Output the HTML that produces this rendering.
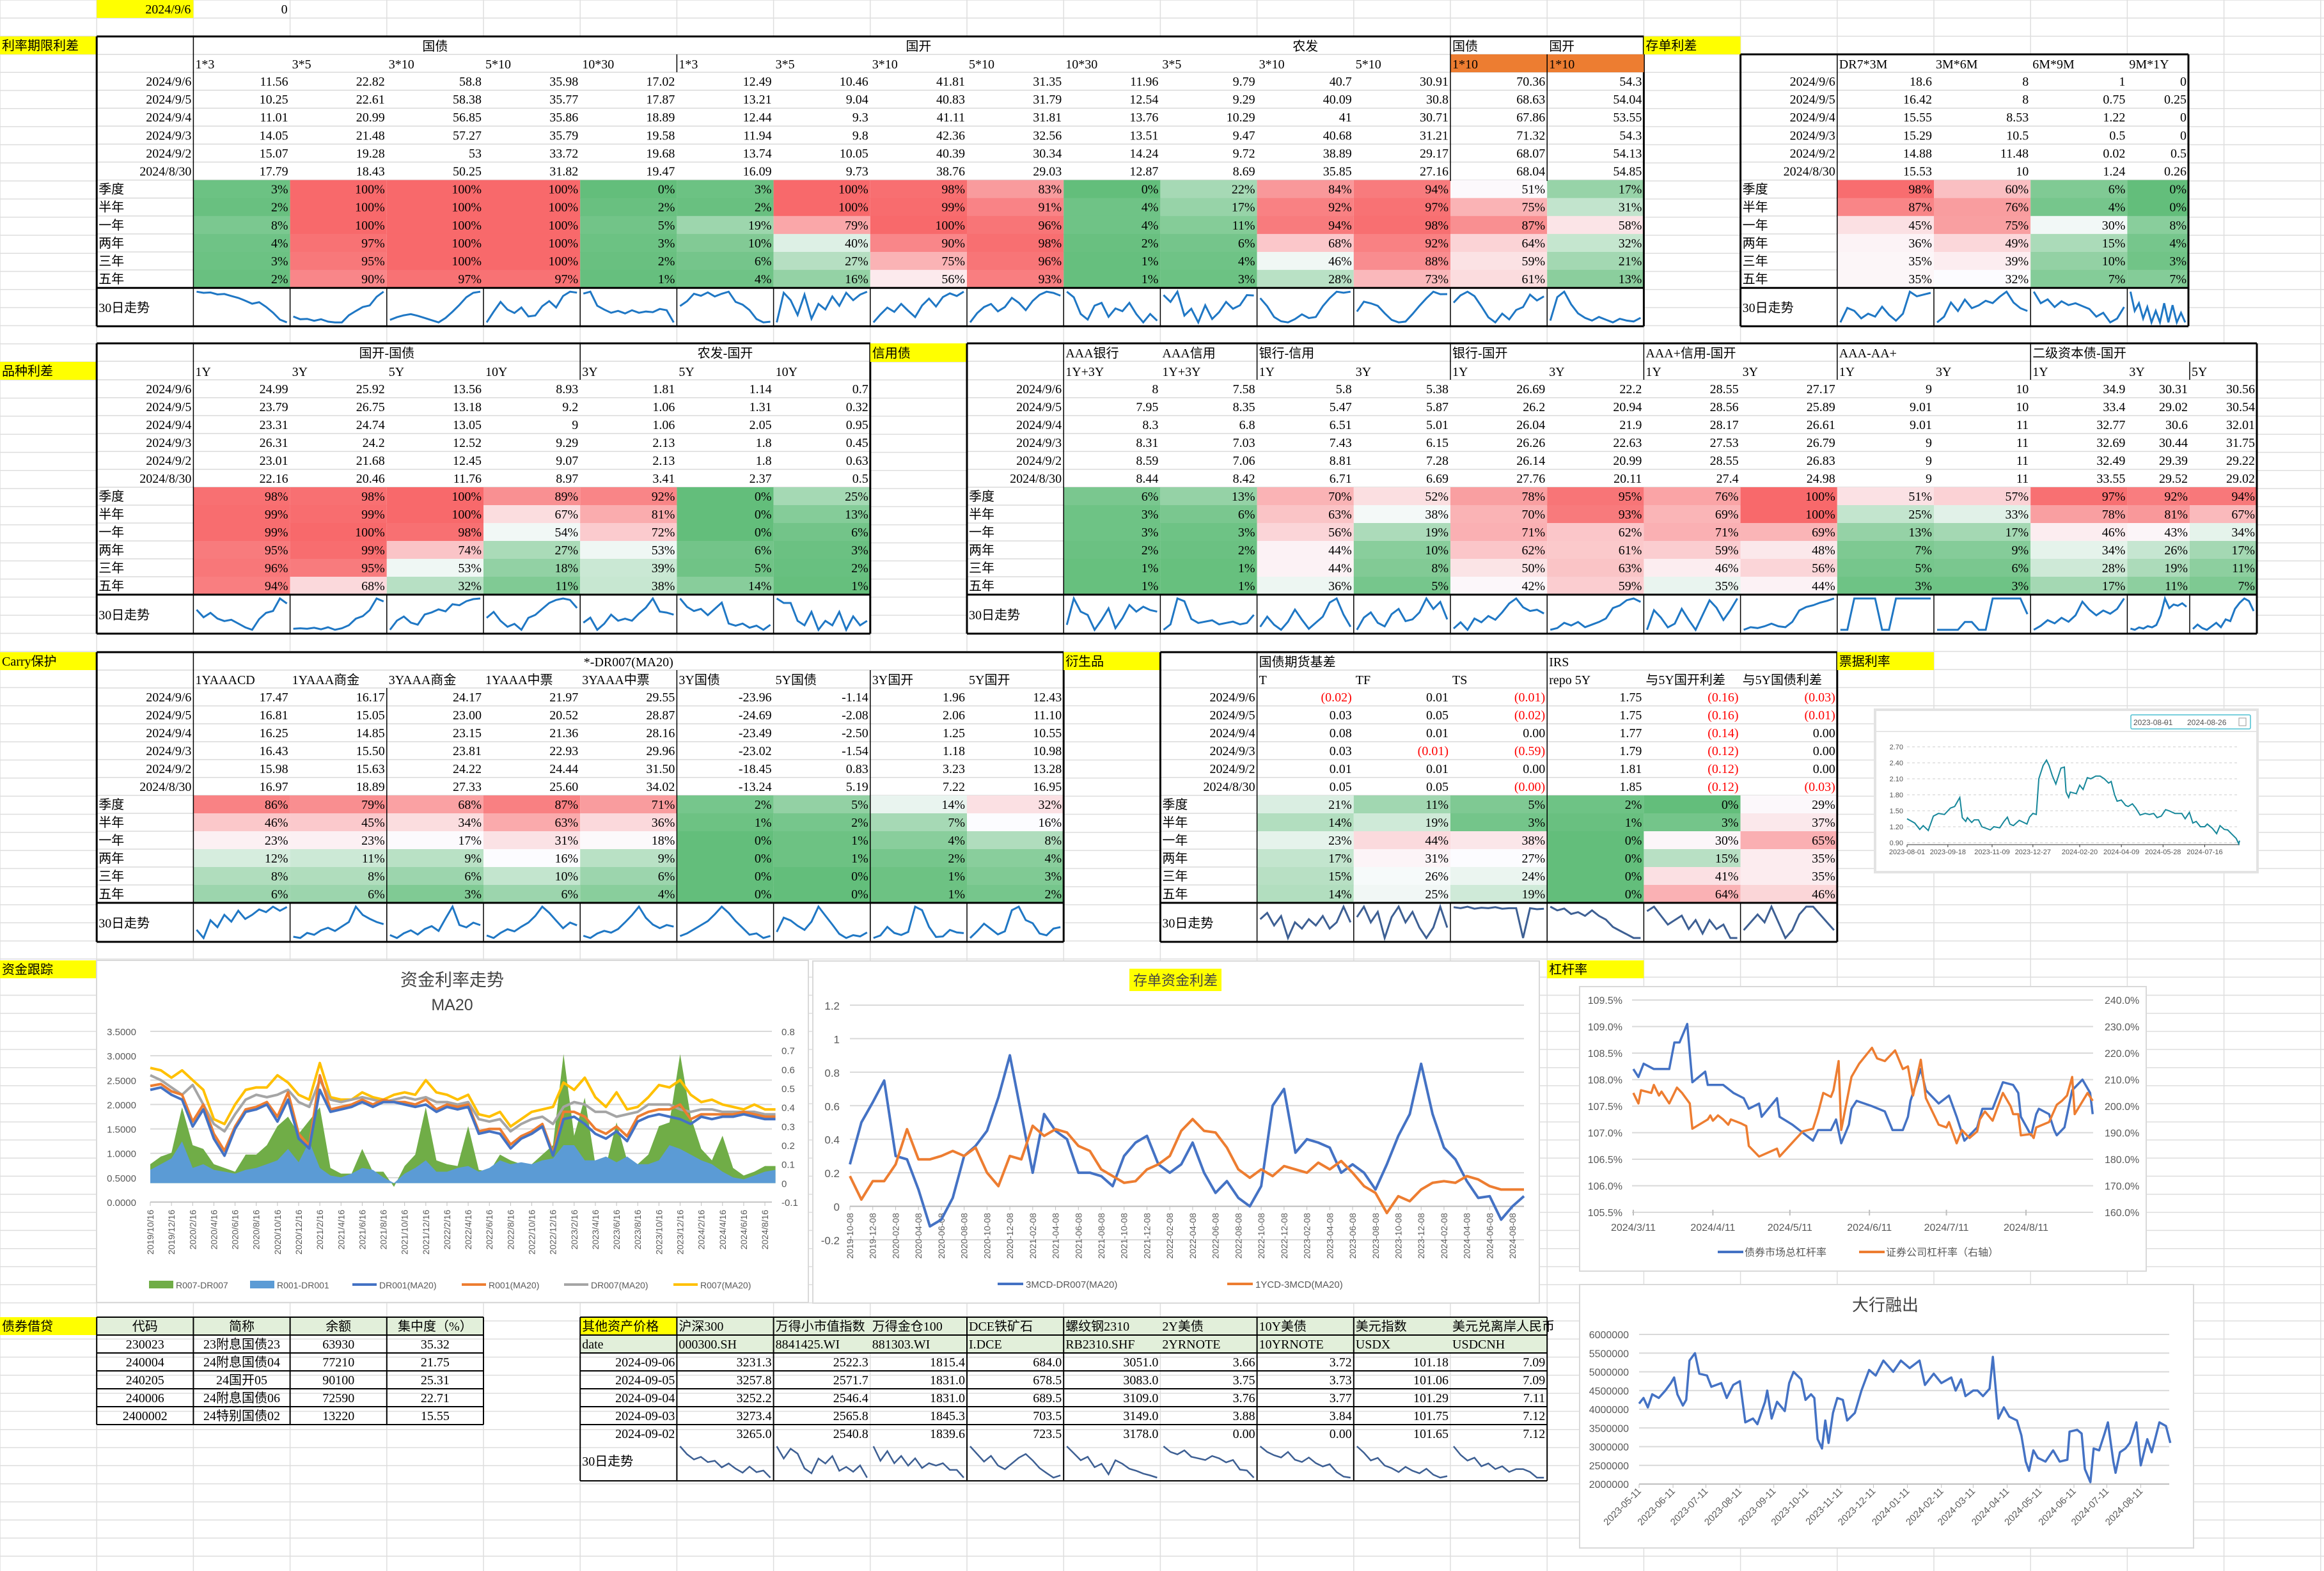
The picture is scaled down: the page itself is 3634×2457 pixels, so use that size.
<!DOCTYPE html>
<html><head><meta charset="utf-8"><title>Dashboard</title>
<style>
html,body{margin:0;padding:0;background:#fff;}
svg{display:block;font-family:"Liberation Serif","Noto Sans CJK SC",serif;}
.cs{font-family:"Liberation Sans","Noto Sans CJK SC",sans-serif;}
</style></head>
<body>
<svg id="sheet" xmlns="http://www.w3.org/2000/svg" width="3634" height="2457" viewBox="0 0 3634 2457"></svg>
<script>
// ===================== DATA =====================
const t1Dates=['2024/9/6','2024/9/5','2024/9/4','2024/9/3','2024/9/2','2024/8/30'];
const pctLabels=['季度','半年','一年','两年','三年','五年'];
const t1Cols=['1*3','3*5','3*10','5*10','10*30','1*3','3*5','3*10','5*10','10*30','3*5','3*10','5*10','1*10','1*10'];
const t1Vals=[[11.56,22.82,58.8,35.98,17.02,12.49,10.46,41.81,31.35,11.96,9.79,40.7,30.91,70.36,54.3],
[10.25,22.61,58.38,35.77,17.87,13.21,9.04,40.83,31.79,12.54,9.29,40.09,30.8,68.63,54.04],
[11.01,20.99,56.85,35.86,18.89,12.44,9.3,41.11,31.81,13.76,10.29,41,30.71,67.86,53.55],
[14.05,21.48,57.27,35.79,19.58,11.94,9.8,42.36,32.56,13.51,9.47,40.68,31.21,71.32,54.3],
[15.07,19.28,53,33.72,19.68,13.74,10.05,40.39,30.34,14.24,9.72,38.89,29.17,68.07,54.13],
[17.79,18.43,50.25,31.82,19.47,16.09,9.73,38.76,29.03,12.87,8.69,35.85,27.16,68.04,54.85]];
const t1Pct=[[3,100,100,100,0,3,100,98,83,0,22,84,94,51,17],
[2,100,100,100,2,2,100,99,91,4,17,92,97,75,31],
[8,100,100,100,5,19,79,100,96,4,11,94,98,87,58],
[4,97,100,100,3,10,40,90,98,2,6,68,92,64,32],
[3,95,100,100,2,6,27,75,96,1,4,46,88,59,21],
[2,90,97,97,1,4,16,56,93,1,3,28,73,61,13]];
const t1Spark=[[19.5,19.2,19.3,18.8,18.9,18.4,17.9,17.2,16.4,16.8,15.6,14.1,12.3,11.6],
[16.5,15.8,15.9,15.4,15.8,15.2,15.0,15.0,16.8,17.9,18.9,19.3,21.5,22.8],
[48.5,49.5,50.2,50.6,50.0,49.2,48.4,47.6,49.2,51.5,54.0,56.8,58.4,58.8],
[29.0,31.5,33.8,32.0,31.2,32.5,30.4,30.6,32.8,34.0,32.5,35.2,36.2,35.98],
[21.5,21.8,19.6,19.0,18.5,18.8,18.4,18.9,18.5,18.7,18.6,19.1,18.9,17.0],
[14.8,15.5,16.6,16.3,16.8,16.2,16.6,16.9,15.4,15.0,14.2,12.9,12.4,12.5],
[8.8,10.4,10.0,9.2,10.3,9.0,9.8,9.5,10.2,9.7,10.4,10.0,10.3,10.46],
[36.0,37.5,38.8,38.0,39.5,38.2,37.0,39.2,40.5,39.0,40.8,41.5,41.0,41.81],
[27.0,28.5,29.5,30.0,28.8,29.5,31.0,30.2,29.0,30.5,31.5,32.0,31.8,31.35],
[13.0,12.8,12.2,12.0,12.5,12.6,12.1,12.4,12.3,12.6,12.2,11.9,12.2,11.96],
[9.8,9.6,9.9,9.2,9.4,9.0,9.5,9.1,9.3,9.6,9.4,9.5,9.8,9.79],
[39.5,38.0,36.0,35.2,35.0,35.6,36.5,35.8,36.0,38.0,39.5,40.7,40.5,40.7],
[28.8,30.0,29.8,29.5,28.6,27.8,27.5,27.6,28.5,29.5,30.4,31.2,30.9,30.91],
[69.5,70.5,71.0,70.4,69.0,67.5,66.8,68.0,67.2,68.5,68.9,70.6,69.8,70.36],
[53.2,55.8,56.4,55.0,54.0,53.5,53.2,53.6,53.3,53.0,53.4,53.2,53.1,53.5]];
const cdCols=['DR7*3M','3M*6M','6M*9M','9M*1Y'];
const cdVals=[[18.6,8,1,0],[16.42,8,0.75,0.25],[15.55,8.53,1.22,0],[15.29,10.5,0.5,0],[14.88,11.48,0.02,0.5],[15.53,10,1.24,0.26]];
const cdPct=[[98,60,6,0],[87,76,4,0],[45,75,30,8],[36,49,15,4],[35,39,10,3],[35,32,7,7]];
const cdSpark=[[13.5,16.0,15.5,14.2,15.0,14.5,16.2,14.8,13.8,15.0,18.8,18.0,18.3,18.6],
[6.0,7.0,9.5,8.0,10.0,8.5,9.0,9.8,9.4,10.5,11.4,9.5,8.5,8.0],
[1.8,1.2,1.4,1.0,1.3,1.1,1.2,1.05,0.9,0.5,0.7,0.2,0.4,1.0],
[0.8,0.3,0.5,0.1,0.4,0.0,0.3,0.0,0.5,0.0,0.45,0.0,0.25,0.0]];
const pzCols=['1Y','3Y','5Y','10Y','3Y','5Y','10Y'];
const pzVals=[[24.99,25.92,13.56,8.93,1.81,1.14,0.7],[23.79,26.75,13.18,9.2,1.06,1.31,0.32],[23.31,24.74,13.05,9,1.06,2.05,0.95],[26.31,24.2,12.52,9.29,2.13,1.8,0.45],[23.01,21.68,12.45,9.07,2.13,1.8,0.63],[22.16,20.46,11.76,8.97,3.41,2.37,0.5]];
const pzPct=[[98,98,100,89,92,0,25],[99,99,100,67,81,0,13],[99,100,98,54,72,0,6],[95,99,74,27,53,6,3],[96,95,53,18,39,5,2],[94,68,32,11,38,14,1]];
const pzSpark=[[24.0,22.8,23.5,22.6,22.2,22.4,21.8,21.2,20.8,22.5,23.5,23.8,25.8,24.99],
[20.5,20.6,20.5,20.7,20.4,20.8,20.3,20.6,21.2,22.5,23.0,24.2,26.5,25.92],
[10.5,11.4,11.8,11.2,11.0,12.0,12.2,12.5,12.3,13.0,12.9,13.3,13.5,13.56],
[8.6,8.8,8.5,8.3,8.4,8.2,8.6,8.7,8.9,9.1,9.2,9.25,9.2,8.93],
[1.0,1.5,0.3,0.9,1.8,1.2,1.4,1.2,1.9,2.5,3.4,2.1,2.0,1.8],
[2.4,2.0,1.8,1.9,1.6,1.9,2.2,1.2,1.1,1.2,1.0,1.1,0.9,1.14],
[1.0,0.9,0.9,0.5,0.4,0.7,0.3,0.5,0.4,0.7,0.3,0.6,0.4,0.5]];
const xyCols=['1Y+3Y','1Y+3Y','1Y','3Y','1Y','3Y','1Y','3Y','1Y','3Y','1Y','3Y','5Y'];
const xyVals=[[8,7.58,5.8,5.38,26.69,22.2,28.55,27.17,9,10,34.9,30.31,30.56],
[7.95,8.35,5.47,5.87,26.2,20.94,28.56,25.89,9.01,10,33.4,29.02,30.54],
[8.3,6.8,6.51,5.01,26.04,21.9,28.17,26.61,9.01,11,32.77,30.6,32.01],
[8.31,7.03,7.43,6.15,26.26,22.63,27.53,26.79,9,11,32.69,30.44,31.75],
[8.59,7.06,8.81,7.28,26.14,20.99,28.55,26.83,9,11,32.49,29.39,29.22],
[8.44,8.42,6.71,6.69,27.76,20.11,27.4,24.98,9,11,33.55,29.52,29.02]];
const xyPct=[[6,13,70,52,78,95,76,100,51,57,97,92,94],[3,6,63,38,70,93,69,100,25,33,78,81,67],[3,3,56,19,71,62,71,69,13,17,46,43,34],[2,2,44,10,62,61,59,48,7,9,34,26,17],[1,1,44,8,50,63,46,56,5,6,28,19,11],[1,1,36,5,42,59,35,44,3,3,17,11,7]];
const xySpark=[[7.2,8.8,8.0,7.8,6.9,7.5,8.2,7.0,7.6,8.4,8.0,8.3,8.1,8.0],
[6.5,6.9,8.8,8.6,7.3,7.0,7.1,7.2,6.9,7.0,7.1,6.9,7.0,7.6],
[5.8,6.8,6.0,5.5,6.3,7.5,6.5,5.6,6.2,6.8,8.2,8.6,7.0,5.8],
[4.8,5.5,5.8,5.2,5.0,5.7,6.0,5.3,5.4,5.8,6.6,6.0,6.4,5.4],
[25.5,26.0,25.4,26.3,26.0,26.5,26.2,26.8,27.5,27.9,27.2,26.9,27.0,26.7],
[19.0,19.2,19.8,19.5,19.9,19.3,19.6,19.9,20.3,21.5,21.8,22.4,22.6,22.2],
[26.0,27.6,27.0,26.2,26.5,27.7,26.8,26.0,27.2,28.4,27.8,26.8,27.6,28.55],
[23.6,23.9,23.8,24.0,24.3,24.0,23.9,24.5,25.8,26.2,26.4,26.7,26.9,27.17],
[8,8,10,10,10,10,8,8,10,10,10,10,10,10],
[9,9,9,9,9.5,9.5,9,9,11,11,11,11,11,10],
[31.0,31.5,32.2,31.8,32.5,32.0,32.8,34.5,33.5,32.8,33.4,33.0,33.6,34.9],
[28.5,28.4,28.6,28.5,28.7,28.6,28.8,29.6,31.0,30.2,30.5,30.4,30.6,30.31],
[28.5,29.0,28.6,28.4,28.8,29.2,28.7,29.6,29.4,30.8,31.5,32.0,31.7,30.56]];
const cyCols=['1YAAACD','1YAAA商金','3YAAA商金','1YAAA中票','3YAAA中票','3Y国债','5Y国债','3Y国开','5Y国开'];
const cyVals=[[17.47,16.17,24.17,21.97,29.55,-23.96,-1.14,1.96,12.43],[16.81,15.05,23.00,20.52,28.87,-24.69,-2.08,2.06,11.10],[16.25,14.85,23.15,21.36,28.16,-23.49,-2.50,1.25,10.55],[16.43,15.50,23.81,22.93,29.96,-23.02,-1.54,1.18,10.98],[15.98,15.63,24.22,24.44,31.50,-18.45,0.83,3.23,13.28],[16.97,18.89,27.33,25.60,34.02,-13.24,5.19,7.22,16.95]];
const cyPct=[[86,79,68,87,71,2,5,14,32],[46,45,34,63,36,1,2,7,16],[23,23,17,31,18,0,1,4,8],[12,11,9,16,9,0,1,2,4],[8,8,6,10,6,0,0,1,3],[6,6,3,6,4,0,0,1,2]];
const cySpark=[[15.8,15.2,16.5,16.0,16.9,16.4,17.2,16.6,16.9,17.3,17.1,17.5,17.2,17.47],
[14.2,14.0,14.8,14.5,15.2,15.6,15.1,15.8,16.5,18.9,17.6,17.0,16.5,16.17],
[22.5,22.0,22.8,23.3,22.6,23.5,24.0,23.2,25.3,27.3,24.2,23.8,24.6,24.17],
[20.0,19.5,20.5,21.2,20.8,21.7,22.5,23.8,25.6,24.4,22.9,21.4,22.5,21.97],
[27.5,27.0,28.0,28.6,28.2,29.0,30.5,32.1,34.0,31.5,30.0,29.2,29.9,29.55],
[-24.0,-23.0,-21.5,-20.0,-18.5,-16.0,-13.2,-15.5,-18.5,-21.0,-23.5,-23.0,-24.7,-23.96],
[-1.0,2.5,1.8,0.5,-0.5,1.5,5.2,3.0,0.8,-1.5,-2.5,-1.8,-2.1,-1.14],
[1.0,1.5,3.2,2.0,1.6,2.2,7.2,6.5,3.2,1.2,1.3,2.6,2.1,1.96],
[10.0,11.5,13.2,12.0,10.8,11.5,16.2,17.0,14.0,13.3,11.0,10.6,12.1,12.43]];
const dvCols=['T','TF','TS','repo 5Y','与5Y国开利差','与5Y国债利差'];
const dvVals=[[-0.02,0.01,-0.01,1.75,-0.16,-0.03],[0.03,0.05,-0.02,1.75,-0.16,-0.01],[0.08,0.01,0.00,1.77,-0.14,0.00],[0.03,-0.01,-0.59,1.79,-0.12,0.00],[0.01,0.01,0.00,1.81,-0.12,0.00],[0.05,0.05,-0.004,1.85,-0.12,-0.03]];
const dvPct=[[21,11,5,2,0,29],[14,19,3,1,3,37],[23,44,38,0,30,65],[17,31,27,0,15,35],[15,26,24,0,41,35],[14,25,19,0,64,46]];
const dvSpark=[[0.04,0.06,0.02,0.05,-0.02,0.03,0.01,0.04,0.02,0.05,0.01,0.03,0.08,0.03],
[0.03,0.05,0.02,0.04,-0.01,0.03,0.05,0.02,0.04,0.01,-0.01,0.01,0.05,0.01],
[0.02,0.0,0.03,-0.01,0.01,0.0,0.02,-0.01,0.0,0.0,-0.59,0.0,-0.02,-0.01],
[1.92,1.90,1.91,1.88,1.89,1.87,1.90,1.87,1.85,1.81,1.79,1.77,1.75,1.75],
[-0.10,-0.09,-0.11,-0.13,-0.12,-0.11,-0.14,-0.12,-0.15,-0.12,-0.14,-0.13,-0.16,-0.16],
[-0.03,-0.02,-0.01,-0.02,0.0,-0.02,-0.04,-0.03,-0.01,0.0,0.0,-0.01,-0.02,-0.03]];
const lendHead=['代码','简称','余额','集中度（%）'];
const lendRows=[['230023','23附息国债23','63930','35.32'],['240004','24附息国债04','77210','21.75'],['240205','24国开05','90100','25.31'],['240006','24附息国债06','72590','22.71'],['2400002','24特别国债02','13220','15.55']];
const assetHead=['沪深300','万得小市值指数','万得金仓100','DCE铁矿石','螺纹钢2310','2Y美债','10Y美债','美元指数','美元兑离岸人民币'];
const assetCode=['000300.SH','8841425.WI','881303.WI','I.DCE','RB2310.SHF','2YRNOTE','10YRNOTE','USDX','USDCNH'];
const assetDates=['2024-09-06','2024-09-05','2024-09-04','2024-09-03','2024-09-02'];
const assetVals=[[3231.3,2522.3,1815.4,684.0,3051.0,3.66,3.72,101.18,7.09],[3257.8,2571.7,1831.0,678.5,3083.0,3.75,3.73,101.06,7.09],[3252.2,2546.4,1831.0,689.5,3109.0,3.76,3.77,101.29,7.11],[3273.4,2565.8,1845.3,703.5,3149.0,3.88,3.84,101.75,7.12],[3265.0,2540.8,1839.6,723.5,3178.0,0.00,0.00,101.65,7.12]];
const assetSpark=[[3350,3320,3300,3310,3290,3295,3270,3285,3265,3250,3273,3252,3258,3231],
[2650,2600,2640,2620,2560,2540,2600,2580,2610,2550,2566,2546,2572,2522],
[1880,1850,1870,1845,1860,1840,1855,1835,1845,1840,1845,1831,1831,1815],
[760,740,720,735,710,700,715,730,740,723,703,690,678,684],
[3500,3400,3300,3350,3200,3250,3100,3300,3250,3178,3149,3109,3083,3051],
[4.05,3.98,3.95,4.0,3.92,3.90,3.88,3.93,3.9,3.85,3.88,3.76,3.75,3.66],
[4.0,3.95,3.92,3.9,3.95,3.88,3.86,3.9,3.85,3.82,3.84,3.77,3.73,3.72],
[103.5,103.0,102.4,102.6,102.0,101.8,101.5,101.9,101.6,101.4,101.75,101.29,101.06,101.18],
[7.20,7.17,7.15,7.16,7.13,7.14,7.12,7.13,7.11,7.12,7.12,7.11,7.09,7.09]];
const fundDates=['2019/10/16','2019/12/16','2020/2/16','2020/4/16','2020/6/16','2020/8/16','2020/10/16','2020/12/16','2021/2/16','2021/4/16','2021/6/16','2021/8/16','2021/10/16','2021/12/16','2022/2/16','2022/4/16','2022/6/16','2022/8/16','2022/10/16','2022/12/16','2023/2/16','2023/4/16','2023/6/16','2023/8/16','2023/10/16','2023/12/16','2024/2/16','2024/4/16','2024/6/16','2024/8/16'];
const dr001=[2.30,2.35,2.20,2.10,1.55,1.90,1.30,0.95,1.50,1.85,1.90,2.0,1.65,2.10,1.30,1.10,2.30,1.85,1.90,1.95,2.05,1.95,2.05,2.05,2.0,1.95,2.0,1.85,1.95,1.90,1.95,1.40,1.45,1.40,1.10,1.30,1.40,1.55,0.95,1.70,1.75,1.60,1.40,1.30,1.45,1.25,1.65,1.75,1.80,1.75,1.70,1.60,1.75,1.70,1.75,1.75,1.80,1.75,1.70,1.70];
const r001=[2.38,2.42,2.27,2.20,1.65,2.00,1.40,1.05,1.55,1.90,1.95,2.05,1.75,2.25,1.40,1.15,2.60,1.90,1.95,2.00,2.10,2.00,2.10,2.05,2.05,2.00,2.10,1.90,2.00,1.95,2.00,1.45,1.50,1.50,1.18,1.35,1.45,1.60,1.00,1.85,1.85,1.75,1.50,1.40,1.55,1.35,1.75,1.85,1.90,1.90,2.00,1.70,1.80,1.80,1.80,1.80,1.85,1.80,1.75,1.75];
const dr007=[2.60,2.50,2.35,2.20,2.40,2.00,1.60,1.45,1.80,2.10,2.20,2.15,2.20,2.30,2.05,1.95,2.50,2.10,2.05,2.10,2.15,2.10,2.05,2.10,2.15,2.10,2.15,2.05,2.05,2.00,2.05,1.70,1.65,1.70,1.45,1.60,1.70,1.75,1.60,1.95,2.05,2.00,1.85,1.85,1.75,1.80,1.85,2.00,2.00,2.00,1.90,1.85,1.90,1.90,1.85,1.85,1.85,1.85,1.80,1.80];
const r007=[2.75,2.70,2.55,2.70,2.50,2.30,1.70,1.60,2.00,2.30,2.35,2.35,2.60,2.45,2.20,2.10,2.85,2.15,2.10,2.10,2.25,2.15,2.10,2.20,2.25,2.20,2.50,2.25,2.20,2.10,2.20,1.80,1.75,1.85,1.55,1.70,1.85,1.90,1.95,2.45,2.30,2.55,2.15,1.95,2.25,1.90,1.95,2.15,2.40,2.35,2.50,2.20,2.05,2.10,2.00,1.95,1.90,2.00,1.90,1.90];
const r001Spread=[0.07,0.10,0.13,0.22,0.08,0.10,0.07,0.06,0.05,0.07,0.08,0.10,0.12,0.18,0.11,0.22,0.08,0.04,0.03,0.05,0.08,0.07,0.03,0.00,0.05,0.08,0.12,0.06,0.06,0.08,0.09,0.06,0.08,0.12,0.10,0.11,0.10,0.12,0.13,0.20,0.20,0.12,0.12,0.14,0.11,0.14,0.10,0.10,0.12,0.20,0.18,0.15,0.12,0.10,0.06,0.03,0.02,0.04,0.06,0.07];
const r007Spread=[0.10,0.14,0.16,0.40,0.20,0.18,0.10,0.08,0.06,0.15,0.15,0.20,0.30,0.35,0.26,0.33,0.40,0.08,0.05,0.05,0.18,0.06,0.06,-0.02,0.09,0.15,0.40,0.12,0.10,0.09,0.30,0.07,0.06,0.15,0.12,0.10,0.10,0.15,0.20,0.68,0.25,0.45,0.10,0.09,0.32,0.12,0.10,0.15,0.30,0.32,0.68,0.35,0.18,0.12,0.25,0.08,0.04,0.06,0.09,0.09];
const fundLeftTicks=['0.0000','0.5000','1.0000','1.5000','2.0000','2.5000','3.0000','3.5000'];
const fundRightTicks=['-0.1','0','0.1','0.2','0.3','0.4','0.5','0.6','0.7','0.8'];
const cdDates=['2019-10-08','2019-12-08','2020-02-08','2020-04-08','2020-06-08','2020-08-08','2020-10-08','2020-12-08','2021-02-08','2021-04-08','2021-06-08','2021-08-08','2021-10-08','2021-12-08','2022-02-08','2022-04-08','2022-06-08','2022-08-08','2022-10-08','2022-12-08','2023-02-08','2023-04-08','2023-06-08','2023-08-08','2023-10-08','2023-12-08','2024-02-08','2024-04-08','2024-06-08','2024-08-08'];
const cd3mDr=[0.25,0.50,0.62,0.75,0.30,0.28,0.10,-0.12,-0.08,0.05,0.30,0.36,0.45,0.65,0.90,0.55,0.20,0.55,0.45,0.40,0.20,0.20,0.18,0.12,0.30,0.38,0.42,0.25,0.20,0.25,0.38,0.20,0.08,0.15,0.05,0.00,0.12,0.60,0.70,0.32,0.40,0.38,0.35,0.20,0.25,0.20,0.10,0.25,0.42,0.55,0.85,0.55,0.35,0.28,0.15,0.05,0.06,-0.08,0.00,0.06];
const cd1y3m=[0.18,0.04,0.15,0.15,0.25,0.46,0.28,0.28,0.30,0.33,0.30,0.35,0.20,0.12,0.30,0.28,0.48,0.42,0.46,0.44,0.36,0.33,0.22,0.18,0.14,0.15,0.22,0.25,0.30,0.45,0.52,0.45,0.44,0.35,0.22,0.17,0.22,0.18,0.24,0.22,0.20,0.26,0.22,0.27,0.20,0.12,0.08,-0.04,0.06,0.03,0.10,0.14,0.15,0.14,0.18,0.16,0.12,0.10,0.10,0.10];
const cdTicks=['-0.2','0','0.2','0.4','0.6','0.8','1','1.2'];
const levDays=[0,2,4,8,14,16,18,21,23,28,29,35,39,43,45,49,50,56,57,62,66,70,72,77,79,81,84,85,87,93,98,101,105,107,108,112,114,119,123,126,129,134,136,140,144,148,150,151,155,157,158,162,164,165,168,171,175,178,179];
const levBond=[108.2,108.05,108.3,108.2,108.2,108.7,108.7,109.05,107.95,108.15,107.9,107.9,107.75,107.65,107.45,107.55,107.3,107.65,107.3,107.15,107.0,106.85,107.05,107.05,107.25,106.8,107.15,107.45,107.6,107.5,107.4,107.05,107.05,107.3,107.6,108.2,107.8,107.55,107.7,107.3,106.85,107.1,107.45,107.45,107.95,107.9,107.75,107.3,106.95,107.35,107.45,107.35,107.05,106.95,107.1,107.8,108.0,107.75,107.35];
const secDays=[0,2,3,7,8,10,11,14,17,19,22,23,29,30,31,33,35,37,38,42,44,45,49,56,57,66,70,72,74,77,78,80,81,85,88,93,95,98,102,105,107,109,112,114,119,122,123,126,128,131,134,135,137,140,144,147,148,150,151,155,156,157,162,165,167,169,171,172,177,179];
const levSec=[205,201,206,205,208,204,205.5,201,207,205,201,191.5,195,196.5,194.5,196.5,195,193,195,193.5,192.5,185,181,184,181,190.5,191.5,197.5,205,203.5,206,217,191,211,216,222,218,217,221,214,215,204,217.5,203,193,192,194,186,191,188,190.5,195,198,194.5,205,200,197,197,189,189.5,188,192,194,200.5,202,204,211,197,205,202];
const levTickDays=[0,31,61,92,122,153];
const levTickLabels=['2024/3/11','2024/4/11','2024/5/11','2024/6/11','2024/7/11','2024/8/11'];
const levLeftTicks=['105.5%','106.0%','106.5%','107.0%','107.5%','108.0%','108.5%','109.0%','109.5%'];
const levRightTicks=['160.0%','170.0%','180.0%','190.0%','200.0%','210.0%','220.0%','230.0%','240.0%'];
const bankDays=[0,4,8,12,18,24,29,32,35,40,43,46,51,55,62,66,75,80,86,92,97,104,108,115,117,121,126,133,137,141,148,152,157,160,163,167,170,173,177,181,186,190,197,203,210,216,223,232,239,247,256,261,269,276,285,289,294,298,305,309,314,320,323,328,333,338,345,349,353,356,360,364,371,378,384,391,393,400,404,407,412,415,420,425,428,433,435,439,444,448,454,458,464,468,475,481,485];
const bankVals=[4150000,4300000,4050000,4400000,4300000,4500000,4700000,4850000,4400000,4100000,4250000,5300000,5500000,4950000,4900000,4600000,4700000,4300000,4650000,4750000,3650000,3750000,3600000,4200000,4500000,3750000,4200000,3950000,4700000,5000000,4800000,4250000,4400000,4300000,3200000,2950000,3700000,3100000,3900000,4300000,4250000,3700000,3900000,4500000,5050000,4900000,5300000,5000000,5300000,5100000,5300000,4650000,4950000,4700000,4850000,4500000,4800000,4350000,4500000,4500000,4350000,4550000,5400000,3750000,4050000,3800000,3700000,3300000,2600000,2350000,2900000,2700000,2600000,2900000,2600000,2650000,3400000,3450000,3350000,2400000,2050000,2950000,2900000,3350000,3650000,2600000,2300000,2850000,2950000,3100000,3650000,2500000,3200000,2850000,3650000,3550000,3100000];
const bankTickDays=[0,31,61,92,123,153,184,214,245,276,305,336,366,397,427,458];
const bankTickLabels=['2023-05-11','2023-06-11','2023-07-11','2023-08-11','2023-09-11','2023-10-11','2023-11-11','2023-12-11','2024-01-11','2024-02-11','2024-03-11','2024-04-11','2024-05-11','2024-06-11','2024-07-11','2024-08-11'];
const bankTicks=['2000000','2500000','3000000','3500000','4000000','4500000','5000000','5500000','6000000'];
const billDays=[0,9,15,19,25,31,37,44,51,56,62,65,69,71,76,79,84,88,93,98,102,109,114,118,121,125,132,141,144,148,152,155,160,164,167,171,175,181,185,187,190,192,199,203,207,212,216,222,227,232,237,240,244,247,252,257,260,265,269,274,280,285,290,294,299,304,308,315,323,327,332,336,340,345,350,353,359,364,368,373,377,382,387,390,391];
const billVals=[1.35,1.27,1.15,1.22,1.13,1.40,1.45,1.43,1.55,1.58,1.75,1.37,1.30,1.37,1.28,1.33,1.33,1.20,1.17,1.14,1.20,1.18,1.30,1.38,1.25,1.22,1.32,1.25,1.38,1.45,1.43,2.10,2.35,2.45,2.35,2.15,2.00,2.30,2.32,1.85,1.75,1.85,1.82,1.98,1.90,2.12,2.10,2.15,2.15,2.10,2.02,2.05,1.80,1.68,1.70,1.60,1.58,1.63,1.55,1.42,1.45,1.43,1.45,1.37,1.40,1.52,1.50,1.45,1.45,1.35,1.47,1.27,1.30,1.20,1.20,1.25,1.17,1.07,1.22,1.15,1.14,1.06,0.98,0.88,0.94];
const billTickDays=[0,48,100,148,203,252,301,350];
const billTickLabels=['2023-08-01','2023-09-18','2023-11-09','2023-12-27','2024-02-20','2024-04-09','2024-05-28','2024-07-16'];
const billTicks=['0.90','1.20','1.50','1.80','2.10','2.40','2.70'];

// ===================== HELPERS =====================
const NS='http://www.w3.org/2000/svg';
const root=document.getElementById('sheet');
function mk(tag,a,p){const e=document.createElementNS(NS,tag);for(const k in a)e.setAttribute(k,a[k]);(p||root).appendChild(e);return e;}
function T(x,y,s,o,p){o=o||{};const e=mk('text',{x:x,y:y,'font-size':o.fs||20,'text-anchor':o.a||'start',fill:o.c||'#000'},p);if(o.cls)e.setAttribute('class',o.cls);if(o.rot!==undefined)e.setAttribute('transform','rotate('+o.rot+' '+x+' '+y+')');e.textContent=s;return e;}
const CW=151.2;
function C(k){return k*CW;}
function pctColor(p,mid){const G=[99,190,123],W=[252,252,255],R=[248,105,107];let a,b,t;if(p<=mid){a=G;b=W;t=p/mid;}else{a=W;b=R;t=(p-mid)/(100-mid);}t=Math.max(0,Math.min(1,t));return 'rgb('+a.map((v,i)=>Math.round(v+(b[i]-v)*t)).join(',')+')';}
function sparkPath(vals,x0,x1,y0,y1){const mn=Math.min(...vals),mx=Math.max(...vals);const n=vals.length;let d='';vals.forEach((v,i)=>{const x=x0+(x1-x0)*i/(n-1);const y=mx===mn?(y0+y1)/2:y1-(v-mn)/(mx-mn)*(y1-y0);d+=(i?'L':'M')+x.toFixed(1)+' '+y.toFixed(1);});return d;}
function yellowLabel(x,y,w,h,s,name){const g=mk('g',{});mk('rect',{x:x,y:y,width:w,height:h,fill:'#FFFF00'},g);T(x+3,y+h-7,s,{},g);return g;}

(function(){let d='';for(let x=0;x<=3634;x+=CW)d+='M'+x.toFixed(1)+' 0V2457';for(let y=0;y<=2457;y+=28.3)d+='M0 '+y.toFixed(1)+'H3634';const g=mk('path',{d:d,stroke:'#DEDEDE','stroke-width':1.5,fill:'none'});})();

(function(){const r=mk('rect',{x:C(1),y:0,width:CW,height:28,fill:'#FFFF00'});const t=T(C(2)-4,21,'2024/9/6',{a:'end'});const z=T(C(3)-4,21,'0',{a:'end'});})();

function block(o){
  const g=mk('g',{});
  
  
  const xs=o.xs,L=xs[0],R=xs[xs.length-1],rh=o.rh;
  const yP=o.yData+6*rh,yS=yP+6*rh,yE=yS+o.sh;
  mk('rect',{x:L,y:o.top,width:R-L,height:yE-o.top,fill:'#fff'},g);
  let d='';for(let r=0;r<=12;r++){const y=o.yData+r*rh;d+='M'+L+' '+y+'H'+R;}
  d+='M'+L+' '+(o.top+rh)+'H'+R;
  mk('path',{d:d,stroke:'#DADADA','stroke-width':1.5},g);
  o.dates.forEach((dt,r)=>{
    const y=o.yData+r*rh+21;
    const dtT=T(xs[1]-3,y,dt,{a:'end'},g);
    
    o.vals[r].forEach((v,c)=>{
      const s=o.fmt?o.fmt(v):String(v);
      const cell=T(xs[c+2]-3,y,s,{a:'end',c:(o.red&&v<0)?'#FF0000':'#000'},g);
      
    });
  });
  pctLabels.forEach((lb,r)=>{
    const y=yP+r*rh;
    const lt=T(L+3,y+21,lb,{},g);
    
    o.pct[r].forEach((p,c)=>{
      const rc=mk('rect',{x:xs[c+1],y:y,width:xs[c+2]-xs[c+1],height:rh+0.5,fill:pctColor(p,o.mid)},g);
      
      const pt=T(xs[c+2]-3,y+21,p+'%',{a:'end'},g);
      
    });
  });
  const sl=T(L+3,yS+o.sh/2+8,'30日走势',{},g);
  
  o.spark.forEach((arr,c)=>{
    const p=mk('path',{d:sparkPath(arr,xs[c+1]+5,xs[c+2]-5,yS+6,yE-6),fill:'none',stroke:o.sc||'#1F77C4','stroke-width':3},g);
    
  });
  let v='';for(let i=1;i<xs.length-1;i++)v+='M'+xs[i]+' '+yS+'V'+yE;
  v+='M'+xs[1]+' '+o.top+'V'+yE;
  mk('path',{d:v,stroke:'#000','stroke-width':1.5},g);
  mk('path',{d:'M'+L+' '+o.top+'H'+R+'M'+L+' '+yS+'H'+R+'M'+L+' '+yE+'H'+R+'M'+L+' '+o.top+'V'+yE+'M'+R+' '+o.top+'V'+yE,stroke:'#000','stroke-width':3,fill:'none'},g);
  return g;
}
function range(a,b){const r=[];for(let k=a;k<=b;k++)r.push(C(k));return r;}

yellowLabel(0,57,CW,28,'利率期限利差','section-label-term-spread');
const gT1=block({name:'term-spread-table',xs:range(1,17),top:57,rh:28.1,yData:113,sh:60,dates:t1Dates,vals:t1Vals,pct:t1Pct,mid:50,spark:t1Spark});
(function(){
  const hd=mk('g',{},gT1);
  mk('rect',{x:C(15),y:85,width:2*CW,height:28,fill:'#ED7D31'},hd);
  T((C(2)+C(7))/2,79,'国债',{a:'middle'},hd);
  T((C(7)+C(12))/2,79,'国开',{a:'middle'},hd);
  T((C(12)+C(15))/2,79,'农发',{a:'middle'},hd);
  T(C(15)+3,79,'国债',{},hd);
  T(C(16)+3,79,'国开',{},hd);
  t1Cols.forEach((c,i)=>{const t=T(C(i+2)+3,107,c,{},hd);});
  mk('path',{d:'M'+C(7)+' 85V113M'+C(15)+' 57V283M'+C(16)+' 85V283',stroke:'#000','stroke-width':1.5},hd);
})();
yellowLabel(C(17),57,CW,28,'存单利差','section-label-cd-spread');
const gCD=block({name:'cd-spread-table',xs:[C(18),C(19),C(20),C(21),C(22),3422],top:85,rh:28.1,yData:113,sh:60,dates:t1Dates,vals:cdVals,pct:cdPct,mid:32,spark:cdSpark});
cdCols.forEach((c,i)=>{const t=T(C(19+i)+3,107,c,{},gCD);});

yellowLabel(0,566,CW,28,'品种利差','section-label-sector-spread');
const gPZ=block({name:'sector-spread-table',xs:range(1,9),top:537,rh:28,yData:594,sh:61,dates:t1Dates,vals:pzVals,pct:pzPct,mid:58,spark:pzSpark});
T((C(2)+C(6))/2,559,'国开-国债',{a:'middle'},gPZ);
T((C(6)+C(9))/2,559,'农发-国开',{a:'middle'},gPZ);
pzCols.forEach((c,i)=>{const t=T(C(i+2)+3,588,c,{},gPZ);});
mk('path',{d:'M'+C(6)+' 537V594',stroke:'#000','stroke-width':1.5},gPZ);
yellowLabel(C(9),537,CW,29,'信用债','section-label-credit');
const xyXs=range(10,22).concat([3424,3529]);
const gXY=block({name:'credit-spread-table',xs:xyXs,top:537,rh:28,yData:594,sh:61,dates:t1Dates,vals:xyVals,pct:xyPct,mid:40,spark:xySpark});
[['AAA银行',11],['AAA信用',12],['银行-信用',13],['银行-国开',15],['AAA+信用-国开',17],['AAA-AA+',19],['二级资本债-国开',21]].forEach(h=>{const t=T(C(h[1])+3,559,h[0],{},gXY);});
xyCols.forEach((c,i)=>{const t=T(xyXs[i+1]+3,588,c,{},gXY);});
mk('path',{d:'M'+C(13)+' 537V594M'+C(15)+' 537V594M'+C(17)+' 537V594M'+C(19)+' 537V594M'+C(21)+' 537V594M3424 566V594',stroke:'#000','stroke-width':1.5},gXY);

yellowLabel(0,1020,CW,28,'Carry保护','section-label-carry');
const gCY=block({name:'carry-table',xs:range(1,11),top:1020,rh:28,yData:1076,sh:61,dates:t1Dates,vals:cyVals,pct:cyPct,mid:16,spark:cySpark,fmt:v=>v.toFixed(2)});
T((C(2)+C(11))/2,1042,'*-DR007(MA20)',{a:'middle'},gCY);
cyCols.forEach((c,i)=>{const t=T(C(i+2)+3,1070,c,{},gCY);});
mk('path',{d:'M'+C(4)+' 1076V1473M'+C(7)+' 1048V1473M'+C(9)+' 1048V1473',stroke:'#000','stroke-width':1.5},gCY);
yellowLabel(C(11),1020,CW,28,'衍生品','section-label-derivatives');
const gDV=block({name:'derivatives-table',xs:range(12,19),top:1020,rh:28,yData:1076,sh:61,dates:t1Dates,vals:dvVals,pct:dvPct,mid:27,spark:dvSpark,sc:'#3D5F93',red:true,fmt:v=>v<0?'('+Math.abs(v).toFixed(2)+')':v.toFixed(2)});
T(C(13)+3,1042,'国债期货基差',{},gDV);
T(C(16)+3,1042,'IRS',{},gDV);
dvCols.forEach((c,i)=>{const t=T(C(i+13)+3,1070,c,{},gDV);});
mk('path',{d:'M'+C(16)+' 1020V1473',stroke:'#000','stroke-width':1.5},gDV);
yellowLabel(C(19),1020,CW,28,'票据利率','section-label-bill-rate');

(function(){
  const g=mk('g',{class:'cs'});
  
  
  mk('rect',{x:2932,y:1110,width:598,height:254,fill:'#fff',stroke:'#E3E3E3','stroke-width':4},g);
  mk('line',{x1:2934,y1:1144,x2:3528,y2:1144,stroke:'#E6E6E6','stroke-width':2},g);
  const db=mk('rect',{x:3332,y:1118,width:187,height:22,fill:'#fff',stroke:'#4BBFD0','stroke-width':1.5,rx:2},g);
  
  
  T(3336,1134,'2023-08-01',{fs:12,c:'#555'},g);
  T(3383,1134,'~',{fs:11,c:'#555'},g);
  T(3420,1134,'2024-08-26',{fs:12,c:'#555'},g);
  mk('rect',{x:3501,y:1123,width:11,height:12,fill:'none',stroke:'#999'},g);
  const x0=2982,x1=3502,yT=1168,yB=1318;
  const xs=d=>x0+d*(x1-x0)/391;
  const ys=v=>yT+(2.70-v)*(yB-yT)/1.8;
  billTicks.forEach(t=>{const y=ys(parseFloat(t));mk('line',{x1:x0,y1:y,x2:x1,y2:y,stroke:'#CCC','stroke-dasharray':'4 4','stroke-width':1},g);T(2976,y+4,t,{fs:11,a:'end',c:'#555'},g);});
  mk('line',{x1:x0,y1:yB+3,x2:x1,y2:yB+3,stroke:'#333','stroke-width':1},g);
  billTickDays.forEach((d,i)=>{const x=xs(d);mk('line',{x1:x,y1:yB+3,x2:x,y2:yB+7,stroke:'#333'},g);T(x,1336,billTickLabels[i],{fs:11,a:'middle',c:'#555'},g);});
  let p='';billDays.forEach((d,i)=>{p+=(i?'L':'M')+xs(d).toFixed(1)+' '+ys(billVals[i]).toFixed(1);});
  const ln=mk('path',{d:p,fill:'none',stroke:'#16879A','stroke-width':2},g);
  
})();

yellowLabel(0,1502,CW,28,'资金跟踪','section-label-funding');
yellowLabel(C(16),1502,CW,28,'杠杆率','section-label-leverage');

(function(){
  const g=mk('g',{class:'cs'});
  
  
  mk('rect',{x:151,y:1502,width:1113,height:535,fill:'#fff',stroke:'#D9D9D9','stroke-width':2},g);
  T(707,1542,'资金利率走势',{fs:27,a:'middle',c:'#444'},g);
  T(707,1580,'MA20',{fs:25,a:'middle',c:'#444'},g);
  const x0=235,yT=1613,yB=1880;
  const xs=i=>x0+i*16.57;
  const yL=v=>yT+(3.5-v)*(yB-yT)/3.5;
  const yR=v=>yT+(0.8-v)*(yB-yT)/0.9;
  fundLeftTicks.forEach(t=>{const y=yL(parseFloat(t));mk('line',{x1:x0,y1:y,x2:1207,y2:y,stroke:'#D9D9D9','stroke-width':2},g);T(213,y+6,t,{fs:15,a:'end',c:'#595959'},g);});
  fundRightTicks.forEach(t=>{T(1222,yR(parseFloat(t))+6,t,{fs:15,c:'#595959'},g);});
  fundDates.forEach((d,i)=>{const x=xs(2*i);mk('line',{x1:x,y1:yB,x2:x,y2:yB+6,stroke:'#BFBFBF'},g);const t=T(x+5,1892,d,{fs:14,a:'end',c:'#595959',rot:-90},g);});
  function area(arr,col,name){let d='M'+xs(0)+' '+yR(0);arr.forEach((v,i)=>{d+='L'+xs(i).toFixed(1)+' '+yR(v).toFixed(1);});d+='L'+xs(arr.length-1).toFixed(1)+' '+yR(0)+'Z';const p=mk('path',{d:d,fill:col},g);}
  area(r007Spread,'#70AD47','r007-dr007-area');
  area(r001Spread,'#5B9BD5','r001-dr001-area');
  function line(arr,col,name){let d='';arr.forEach((v,i)=>{d+=(i?'L':'M')+xs(i).toFixed(1)+' '+yL(v).toFixed(1);});const p=mk('path',{d:d,fill:'none',stroke:col,'stroke-width':4,'stroke-linejoin':'round'},g);}
  line(r007,'#FFC000','r007-line');
  line(dr007,'#A5A5A5','dr007-line');
  line(r001,'#ED7D31','r001-line');
  line(dr001,'#4472C4','dr001-line');
  mk('line',{x1:x0,y1:yB,x2:1207,y2:yB,stroke:'#BFBFBF','stroke-width':1.5},g);
  const leg=[['R007-DR007','#70AD47',233,1],['R001-DR001','#5B9BD5',391,1],['DR001(MA20)','#4472C4',551,0],['R001(MA20)','#ED7D31',722,0],['DR007(MA20)','#A5A5A5',882,0],['R007(MA20)','#FFC000',1053,0]];
  leg.forEach(l=>{const lg=mk('g',{},g);if(l[3])mk('rect',{x:l[2],y:2003,width:38,height:12,fill:l[1]},lg);else mk('line',{x1:l[2],y1:2009,x2:l[2]+38,y2:2009,stroke:l[1],'stroke-width':4},lg);T(l[2]+42,2015,l[0],{fs:14,c:'#595959'},lg);});
})();

(function(){
  const g=mk('g',{class:'cs'});
  
  
  mk('rect',{x:1271,y:1503,width:1136,height:535,fill:'#fff',stroke:'#D9D9D9','stroke-width':2},g);
  mk('rect',{x:1766,y:1515,width:144,height:35,fill:'#FFFF00'},g);
  T(1838,1541,'存单资金利差',{fs:22,a:'middle',c:'#444'},g);
  const x0=1329,x1=2383,yT=1572,yB=1939;
  const xs=i=>x0+i*(x1-x0)/59;
  const ys=v=>yT+(1.2-v)*(yB-yT)/1.4;
  cdTicks.forEach(t=>{const y=ys(parseFloat(t));mk('line',{x1:x0,y1:y,x2:x1,y2:y,stroke:'#D9D9D9','stroke-width':2},g);T(1313,y+7,t,{fs:17,a:'end',c:'#595959'},g);});
  mk('line',{x1:x0,y1:ys(0),x2:x1,y2:ys(0),stroke:'#BFBFBF','stroke-width':2},g);
  cdDates.forEach((d,i)=>{const x=xs(2*i);mk('line',{x1:x,y1:ys(0),x2:x,y2:ys(0)+6,stroke:'#BFBFBF'},g);const t=T(x+5,1897,d,{fs:14,a:'end',c:'#595959',rot:-90},g);});
  function line(arr,col,name){let d='';arr.forEach((v,i)=>{d+=(i?'L':'M')+xs(i).toFixed(1)+' '+ys(v).toFixed(1);});const p=mk('path',{d:d,fill:'none',stroke:col,'stroke-width':4,'stroke-linejoin':'round'},g);}
  line(cd3mDr,'#4472C4','3mcd-dr007-line');
  line(cd1y3m,'#ED7D31','1ycd-3mcd-line');
  [['3MCD-DR007(MA20)','#4472C4',1560],['1YCD-3MCD(MA20)','#ED7D31',1919]].forEach(l=>{const lg=mk('g',{},g);mk('line',{x1:l[2],y1:2008,x2:l[2]+40,y2:2008,stroke:l[1],'stroke-width':4},lg);T(l[2]+44,2014,l[0],{fs:15,c:'#595959'},lg);});
})();

(function(){
  const g=mk('g',{class:'cs'});
  
  
  mk('rect',{x:2470,y:1543,width:886,height:445,fill:'#fff',stroke:'#D9D9D9','stroke-width':2},g);
  const x0=2554,x1=3273,yT=1564,yB=1896;
  const xs=d=>x0+d*4.013;
  const yL=v=>yT+(109.5-v)*(yB-yT)/4;
  const yR=v=>yT+(240-v)*(yB-yT)/80;
  levLeftTicks.forEach((t,i)=>{const y=yL(105.5+i*0.5);mk('line',{x1:2552,y1:y,x2:x1,y2:y,stroke:'#D9D9D9','stroke-width':2},g);T(2537,y+6,t,{fs:16,a:'end',c:'#595959'},g);});
  levRightTicks.forEach((t,i)=>{T(3291,yR(160+i*10)+6,t,{fs:16,c:'#595959'},g);});
  levTickDays.forEach((d,i)=>{const x=xs(d);mk('line',{x1:x,y1:yB-4,x2:x,y2:yB+5,stroke:'#BFBFBF','stroke-width':2},g);T(x,1925,levTickLabels[i],{fs:16,a:'middle',c:'#595959'},g);});
  let pb='';levDays.forEach((d,i)=>{pb+=(i?'L':'M')+xs(d).toFixed(1)+' '+yL(levBond[i]).toFixed(1);});
  const lb=mk('path',{d:pb,fill:'none',stroke:'#4472C4','stroke-width':3.5,'stroke-linejoin':'round'},g);
  
  let ps='';secDays.forEach((d,i)=>{ps+=(i?'L':'M')+xs(d).toFixed(1)+' '+yR(levSec[i]).toFixed(1);});
  const ls=mk('path',{d:ps,fill:'none',stroke:'#ED7D31','stroke-width':3.5,'stroke-linejoin':'round'},g);
  
  [['债券市场总杠杆率','#4472C4',2686],['证券公司杠杆率（右轴）','#ED7D31',2907]].forEach(l=>{const lg=mk('g',{},g);mk('line',{x1:l[2],y1:1958,x2:l[2]+40,y2:1958,stroke:l[1],'stroke-width':4},lg);T(l[2]+42,1964,l[0],{fs:16,c:'#595959'},lg);});
})();

(function(){
  const g=mk('g',{class:'cs'});
  
  
  mk('rect',{x:2470,y:2009,width:960,height:412,fill:'#fff',stroke:'#D9D9D9','stroke-width':2},g);
  T(2948,2050,'大行融出',{fs:26,a:'middle',c:'#444'},g);
  const x0=2563,x1=3392,yT=2087,yB=2321;
  const xs=d=>x0+d*(x1-x0)/484;
  const ys=v=>yT+(6000000-v)*(yB-yT)/4000000;
  bankTicks.forEach(t=>{const y=ys(parseFloat(t));mk('line',{x1:x0,y1:y,x2:x1,y2:y,stroke:'#D9D9D9','stroke-width':2},g);T(2547,y+6,t,{fs:16,a:'end',c:'#595959'},g);});
  mk('line',{x1:x0,y1:yB,x2:x1,y2:yB,stroke:'#BFBFBF','stroke-width':2},g);
  bankTickDays.forEach((d,i)=>{const x=xs(d);mk('line',{x1:x,y1:yB,x2:x,y2:yB+6,stroke:'#BFBFBF'},g);const t=T(x+4,2333,bankTickLabels[i],{fs:15,a:'end',c:'#595959',rot:-45},g);});
  let p='';bankDays.forEach((d,i)=>{p+=(i?'L':'M')+xs(d).toFixed(1)+' '+ys(bankVals[i]).toFixed(1);});
  const ln=mk('path',{d:p,fill:'none',stroke:'#4472C4','stroke-width':3.5,'stroke-linejoin':'round'},g);
  
})();

yellowLabel(0,2060,CW,28,'债券借贷','section-label-bond-lending');
(function(){
  const g=mk('g',{});
  
  
  mk('rect',{x:C(1),y:2060,width:4*CW,height:28,fill:'#E2EFDA'},g);
  lendHead.forEach((h,i)=>{T(C(1+i)+CW/2,2081,h,{a:'middle'},g);});
  lendRows.forEach((r,ri)=>{const y=2088+ri*28;r.forEach((v,ci)=>{const t=T(C(1+ci)+CW/2,y+21,v,{a:'middle'},g);});});
  let d='';for(let r=0;r<=6;r++)d+='M'+C(1)+' '+(2060+r*28)+'H'+C(5);for(let c=1;c<=5;c++)d+='M'+C(c)+' 2060V2228';
  mk('path',{d:d,stroke:'#000','stroke-width':2},g);
})();

(function(){
  const g=mk('g',{});
  
  
  const L=C(6),R=C(16);
  mk('rect',{x:L,y:2060,width:R-L,height:56,fill:'#E2EFDA'},g);
  mk('rect',{x:L,y:2060,width:CW,height:28,fill:'#FFFF00'},g);
  T(L+3,2081,'其他资产价格',{},g);
  T(L+3,2109,'date',{},g);
  assetHead.forEach((h,i)=>{const t=T(C(7+i)+3,2081,h,{},g);});
  assetCode.forEach((h,i)=>{const t=T(C(7+i)+3,2109,h,{},g);});
  assetDates.forEach((dt,r)=>{const y=2116+r*28+21;T(C(7)-3,y,dt,{a:'end'},g);assetVals[r].forEach((v,c)=>{const t=T(C(8+c)-3,y,c<5?v.toFixed(1):v.toFixed(2),{a:'end'},g);});});
  T(L+3,2292,'30日走势',{},g);
  assetSpark.forEach((arr,c)=>{const p=mk('path',{d:sparkPath(arr,C(7+c)+5,C(8+c)-5,2262,2311),fill:'none',stroke:'#3D5F93','stroke-width':2.5},g);});
  let d='';for(let r=0;r<=7;r++){d+='M'+L+' '+(r===7?2316:2060+r*28)+'H'+R;}
  [6,7,8,10,11,13,14,16].forEach(k=>{d+='M'+C(k)+' 2060V2316';});
  mk('path',{d:d,stroke:'#000','stroke-width':2},g);
})();
</script>
</body></html>
